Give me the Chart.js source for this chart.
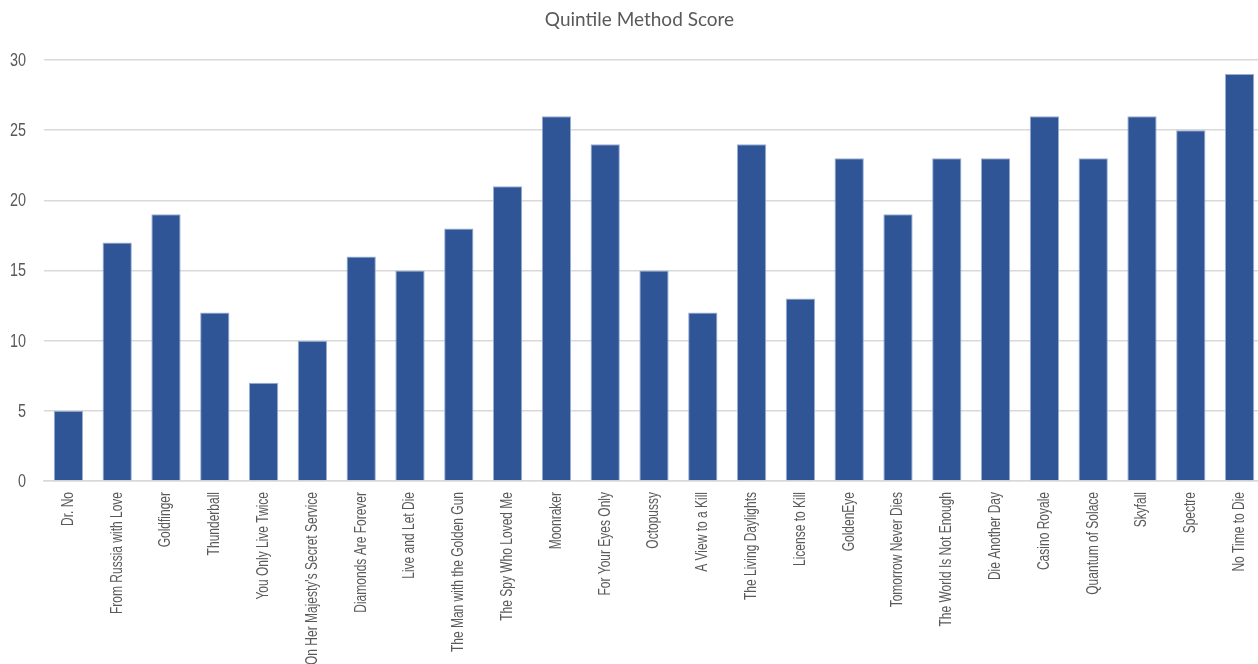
<!DOCTYPE html>
<html>
<head>
<meta charset="utf-8">
<script src="https://cdn.jsdelivr.net/npm/chart.js@4"></script>
<style>
  html, body { margin: 0; padding: 0; background: #ffffff; overflow: hidden; }
  #wrap { width: 1264px; height: 664px; position: relative; }
</style>
</head>
<body>
<div id="wrap"><canvas id="c"></canvas></div>
<script>
const chartTitle = "Quintile Method Score";
const films = [
  "Dr. No", "From Russia with Love", "Goldfinger", "Thunderball", "You Only Live Twice",
  "On Her Majesty's Secret Service", "Diamonds Are Forever", "Live and Let Die",
  "The Man with the Golden Gun", "The Spy Who Loved Me", "Moonraker", "For Your Eyes Only",
  "Octopussy", "A View to a Kill", "The Living Daylights", "License to Kill", "GoldenEye",
  "Tomorrow Never Dies", "The World Is Not Enough", "Die Another Day", "Casino Royale",
  "Quantum of Solace", "Skyfall", "Spectre", "No Time to Die"
];
const scores = [5, 17, 19, 12, 7, 10, 16, 15, 18, 21, 26, 24, 15, 12, 24, 13, 23, 19, 23, 23, 26, 23, 26, 25, 29];
const yTicks = [0, 5, 10, 15, 20, 25, 30];

const txtColor = "#595959";
const sansFont = "'Liberation Sans', Arial, sans-serif";

// Draws title and tick labels with a condensed look (horizontal squeeze)
const textPlugin = {
  id: 'condensedText',
  afterDraw(chart) {
    const ctx = chart.ctx;
    const xs = chart.scales.x, ys = chart.scales.y;
    ctx.save();
    ctx.fillStyle = txtColor;

    // title
    ctx.save();
    ctx.font = "20px Lato, 'Open Sans', sans-serif";
    ctx.textAlign = "center";
    ctx.textBaseline = "middle";
    ctx.translate(639.5, 20);
    ctx.scale(0.95, 1);
    ctx.fillText(chartTitle, 0, 0);
    ctx.restore();

    // y tick labels
    ctx.font = "18px " + sansFont;
    ctx.textAlign = "right";
    ctx.textBaseline = "middle";
    ys.ticks.forEach(t => {
      const py = ys.getPixelForValue(t.value);
      ctx.save();
      ctx.translate(ys.right - 18, py + 1);
      ctx.scale(0.8, 1);
      ctx.fillText(String(t.value), 0, 0);
      ctx.restore();
    });

    // x tick labels (rotated 90°)
    ctx.font = "16px " + sansFont;
    ctx.textAlign = "right";
    ctx.textBaseline = "middle";
    films.forEach((lab, i) => {
      const px = xs.getPixelForTick(i);
      ctx.save();
      ctx.translate(px, xs.top + 11);
      ctx.rotate(-Math.PI / 2);
      ctx.scale(0.75, 1);
      ctx.fillText(lab, 0, 0);
      ctx.restore();
    });
    ctx.restore();
  }
};

new Chart(document.getElementById('c'), {
  type: 'bar',
  data: {
    labels: films,
    datasets: [{
      data: scores,
      backgroundColor: '#2F5597',
      borderColor: '#9AAED4',
      borderWidth: 1,
      barPercentage: 0.6,
      categoryPercentage: 1.0
    }]
  },
  options: {
    responsive: true,
    maintainAspectRatio: false,
    animation: false,
    layout: { padding: { top: 60, left: 0, right: 0, bottom: 0 } },
    plugins: { legend: { display: false }, title: { display: false }, tooltip: { enabled: false } },
    scales: {
      x: {
        grid: { display: false, drawTicks: false },
        border: { display: true, color: '#D9D9D9', width: 1.5 },
        ticks: { display: false, autoSkip: false },
        afterFit(scale) { scale.height = 183; }
      },
      y: {
        min: 0, max: 30,
        afterBuildTicks(scale) { scale.ticks = yTicks.map(v => ({ value: v })); },
        grid: { color: '#D9D9D9', lineWidth: 1.5, drawTicks: false },
        border: { display: false },
        ticks: { display: false },
        afterFit(scale) { scale.width = 44; }
      }
    }
  },
  plugins: [textPlugin]
});
</script>
</body>
</html>
